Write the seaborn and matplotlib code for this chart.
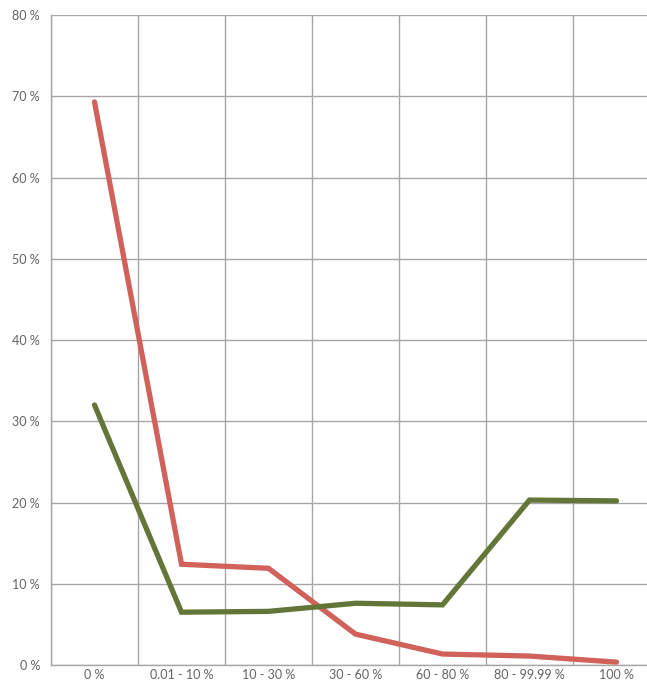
import matplotlib
matplotlib.use("Agg")
import matplotlib.pyplot as plt
import seaborn as sns
import pandas as pd
import numpy as np

categories = ["0 %", "0.01 - 10 %", "10 - 30 %", "30 - 60 %", "60 - 80 %", "80 - 99.99 %", "100 %"]
red_values = [69.3, 12.4, 11.9, 3.8, 1.35, 1.1, 0.35]
green_values = [32.0, 6.5, 6.6, 7.6, 7.4, 20.3, 20.2]
y_ticks = [0, 10, 20, 30, 40, 50, 60, 70, 80]

df = pd.DataFrame({
    "category": categories * 2,
    "value": red_values + green_values,
    "series": ["red"] * len(categories) + ["green"] * len(categories),
})

sns.set_style("white")
plt.rcParams["font.family"] = ["Lato", "DejaVu Sans"]

grid_col = "#a6a6a6"
text_col = "#636363"

fig = plt.figure(figsize=(6.47, 6.83), dpi=100)
ax = fig.add_axes([51 / 647, 18 / 683, 609 / 647, 650 / 683])

sns.lineplot(data=df, x="category", y="value", hue="series",
             palette={"red": "#d0615b", "green": "#647538"},
             linewidth=3.8, legend=False, ax=ax, sort=False,
             solid_capstyle="round", solid_joinstyle="miter")

ax.set_xlim(-0.5, len(categories) - 0.5)
ax.set_ylim(0, 80)
ax.set_yticks(y_ticks)
ax.set_yticklabels([f"{v} %" for v in y_ticks])
ax.set_xticks(range(len(categories)))
ax.set_xticklabels(categories)
ax.set_xticks(np.arange(len(categories) + 1) - 0.5, minor=True)
ax.set_xlabel("")
ax.set_ylabel("")

ax.grid(True, axis="y", color=grid_col, linewidth=1.0)
ax.grid(True, axis="x", which="minor", color=grid_col, linewidth=1.0)
ax.grid(False, axis="x", which="major")
ax.set_axisbelow(True)

for side in ["top", "right"]:
    ax.spines[side].set_visible(False)
for side in ["left", "bottom"]:
    ax.spines[side].set_color(grid_col)
    ax.spines[side].set_linewidth(1.0)

ax.tick_params(axis="x", which="major", length=0, pad=3, labelsize=9, labelcolor=text_col)
ax.tick_params(axis="x", which="minor", length=14, width=1.0, color=grid_col)
ax.tick_params(axis="y", length=5, width=1.0, color=grid_col, pad=3, labelsize=9, labelcolor=text_col)

fig.savefig("out.png", dpi=100)
